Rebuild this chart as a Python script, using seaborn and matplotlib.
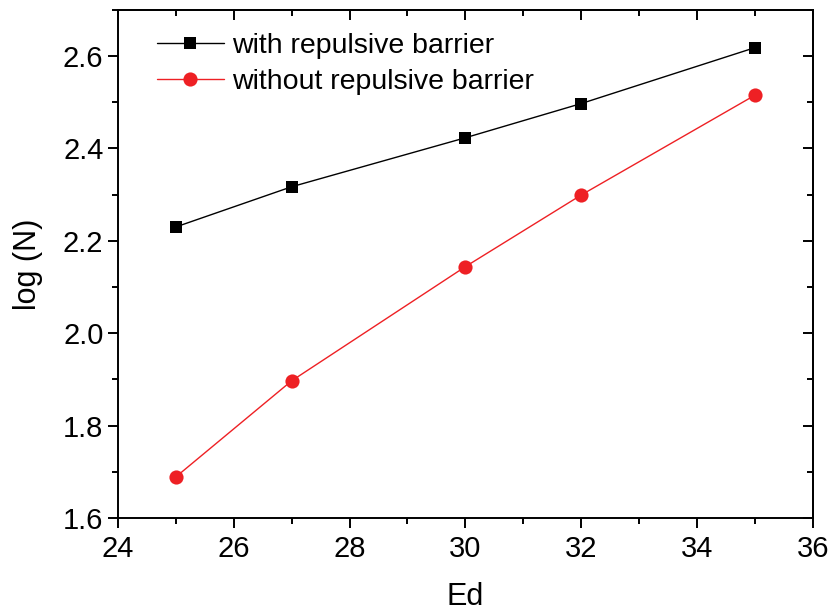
import matplotlib
matplotlib.use("Agg")
import matplotlib.pyplot as plt
import seaborn as sns
import pandas as pd
from matplotlib.ticker import MultipleLocator

ed = [25, 27, 30, 32, 35]
with_barrier = [2.230, 2.317, 2.423, 2.497, 2.618]
without_barrier = [1.689, 1.897, 2.144, 2.299, 2.515]
series_names = ["with repulsive barrier", "without repulsive barrier"]

df = pd.DataFrame({
    "Ed": ed * 2,
    "logN": with_barrier + without_barrier,
    "series": [series_names[0]] * len(ed) + [series_names[1]] * len(ed),
})

sns.set_theme(style="ticks")
plt.rcParams['font.family'] = ['Liberation Sans', 'DejaVu Sans']
plt.rcParams['text.color'] = 'black'
plt.rcParams['axes.labelcolor'] = 'black'

fig = plt.figure(figsize=(8.31, 6.12), dpi=100)
ax = fig.add_axes([0.142, 0.1536, 0.836, 0.8304])

colors = {series_names[0]: "black", series_names[1]: "#ee2024"}
markers = {series_names[0]: "s", series_names[1]: "o"}
sizes = {series_names[0]: 8.8, series_names[1]: 10.2}

for name in series_names:
    sub = df[df["series"] == name]
    sns.lineplot(data=sub, x="Ed", y="logN", ax=ax, color=colors[name],
                 marker=markers[name], markersize=sizes[name],
                 markeredgewidth=0, linewidth=1.0, label=name)

ax.set_xlim(24, 36)
ax.set_ylim(1.6, 2.7)
ax.xaxis.set_major_locator(MultipleLocator(2))
ax.xaxis.set_minor_locator(MultipleLocator(1))
ax.yaxis.set_major_locator(MultipleLocator(0.2))
ax.yaxis.set_minor_locator(MultipleLocator(0.1))
ax.set_yticks([1.6, 1.8, 2.0, 2.2, 2.4, 2.6])
ax.set_yticklabels(["1.6", "1.8", "2.0", "2.2", "2.4", "2.6"])

for s in ax.spines.values():
    s.set_visible(True)
    s.set_linewidth(1.4)
    s.set_color("black")

ax.tick_params(which="both", direction="out", colors="black", width=1.4,
               labelsize=21, top=False, right=False)
ax.tick_params(which="major", length=7)
ax.tick_params(which="minor", length=4)
ax.tick_params(axis="x", which="major", pad=5)

# inward ticks on the top and right spines
ax_top = ax.secondary_xaxis("top")
ax_top.xaxis.set_major_locator(MultipleLocator(2))
ax_top.xaxis.set_minor_locator(MultipleLocator(1))
ax_top.tick_params(which="both", direction="in", labeltop=False, width=1.4, colors="black")
ax_top.tick_params(which="major", length=7)
ax_top.tick_params(which="minor", length=4)
ax_right = ax.secondary_yaxis("right")
ax_right.yaxis.set_major_locator(MultipleLocator(0.2))
ax_right.yaxis.set_minor_locator(MultipleLocator(0.1))
ax_right.tick_params(which="both", direction="in", labelright=False, width=1.4, colors="black")
ax_right.tick_params(which="major", length=7)
ax_right.tick_params(which="minor", length=4)
for sec in (ax_top, ax_right):
    for s in sec.spines.values():
        s.set_linewidth(1.4)

ax.set_xlabel("Ed", fontsize=22, labelpad=14)
ax.set_ylabel("log (N)", fontsize=22, labelpad=14)

leg = ax.legend(loc="upper left", frameon=False, fontsize=20.5,
                handlelength=2.35, handletextpad=0.3, labelspacing=0.36,
                borderaxespad=0.3, bbox_to_anchor=(0.027, 0.994))

fig.savefig("out.png", dpi=100)
